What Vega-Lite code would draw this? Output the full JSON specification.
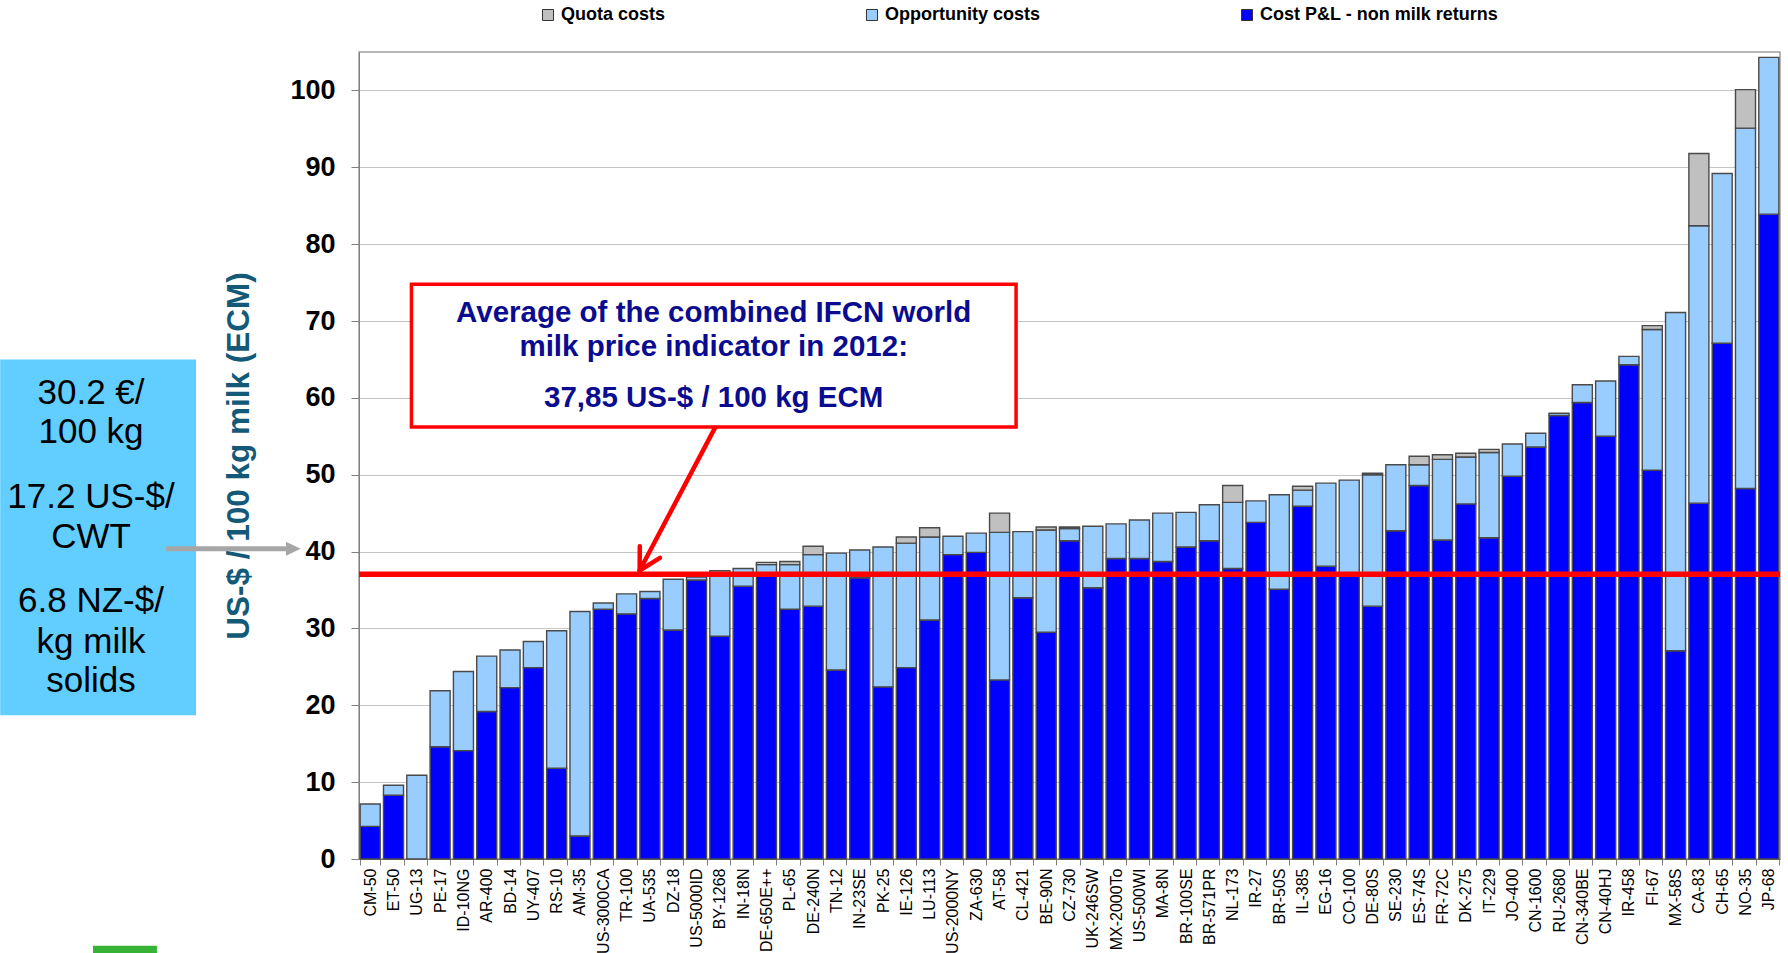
{
  "$schema": "https://vega.github.io/schema/vega-lite/v6.json",
  "width": 1421,
  "height": 807,
  "padding": {"left": 0, "top": 6, "right": 8, "bottom": 0},
  "background": "white",
  "config": {"font": "Liberation Sans", "view": {"stroke": "#a0a0a0", "strokeWidth": 1.5}},
  "resolve": {"scale": {"x": "independent"}},
  "layer": [
    {
      "data": {"values": [
        {"farm":"CM-50","component":"Cost P&L - non milk returns","value":4.25},{"farm":"CM-50","component":"Opportunity costs","value":2.9},
        {"farm":"ET-50","component":"Cost P&L - non milk returns","value":8.3},{"farm":"ET-50","component":"Opportunity costs","value":1.3},
        {"farm":"UG-13","component":"Opportunity costs","value":10.9},
        {"farm":"PE-17","component":"Cost P&L - non milk returns","value":14.6},{"farm":"PE-17","component":"Opportunity costs","value":7.3},
        {"farm":"ID-10NG","component":"Cost P&L - non milk returns","value":14.1},{"farm":"ID-10NG","component":"Opportunity costs","value":10.3},
        {"farm":"AR-400","component":"Cost P&L - non milk returns","value":19.2},{"farm":"AR-400","component":"Opportunity costs","value":7.2},
        {"farm":"BD-14","component":"Cost P&L - non milk returns","value":22.3},{"farm":"BD-14","component":"Opportunity costs","value":4.9},
        {"farm":"UY-407","component":"Cost P&L - non milk returns","value":24.9},{"farm":"UY-407","component":"Opportunity costs","value":3.4},
        {"farm":"RS-10","component":"Cost P&L - non milk returns","value":11.8},{"farm":"RS-10","component":"Opportunity costs","value":17.9},
        {"farm":"AM-35","component":"Cost P&L - non milk returns","value":3.0},{"farm":"AM-35","component":"Opportunity costs","value":29.2},
        {"farm":"US-3000CA","component":"Cost P&L - non milk returns","value":32.5},{"farm":"US-3000CA","component":"Opportunity costs","value":0.8},
        {"farm":"TR-100","component":"Cost P&L - non milk returns","value":31.9},{"farm":"TR-100","component":"Opportunity costs","value":2.6},
        {"farm":"UA-535","component":"Cost P&L - non milk returns","value":33.9},{"farm":"UA-535","component":"Opportunity costs","value":0.9},
        {"farm":"DZ-18","component":"Cost P&L - non milk returns","value":29.8},{"farm":"DZ-18","component":"Opportunity costs","value":6.6},
        {"farm":"US-5000ID","component":"Cost P&L - non milk returns","value":36.3},{"farm":"US-5000ID","component":"Opportunity costs","value":0.4},
        {"farm":"BY-1268","component":"Cost P&L - non milk returns","value":29.0},{"farm":"BY-1268","component":"Opportunity costs","value":8.5},
        {"farm":"IN-18N","component":"Cost P&L - non milk returns","value":35.5},{"farm":"IN-18N","component":"Opportunity costs","value":2.3},
        {"farm":"DE-650E++","component":"Cost P&L - non milk returns","value":37.2},{"farm":"DE-650E++","component":"Opportunity costs","value":1.1},{"farm":"DE-650E++","component":"Quota costs","value":0.3},
        {"farm":"PL-65","component":"Cost P&L - non milk returns","value":32.5},{"farm":"PL-65","component":"Opportunity costs","value":5.8},{"farm":"PL-65","component":"Quota costs","value":0.4},
        {"farm":"DE-240N","component":"Cost P&L - non milk returns","value":32.9},{"farm":"DE-240N","component":"Opportunity costs","value":6.7},{"farm":"DE-240N","component":"Quota costs","value":1.1},
        {"farm":"TN-12","component":"Cost P&L - non milk returns","value":24.6},{"farm":"TN-12","component":"Opportunity costs","value":15.2},
        {"farm":"IN-23SE","component":"Cost P&L - non milk returns","value":36.6},{"farm":"IN-23SE","component":"Opportunity costs","value":3.6},
        {"farm":"PK-25","component":"Cost P&L - non milk returns","value":22.4},{"farm":"PK-25","component":"Opportunity costs","value":18.2},
        {"farm":"IE-126","component":"Cost P&L - non milk returns","value":24.9},{"farm":"IE-126","component":"Opportunity costs","value":16.2},{"farm":"IE-126","component":"Quota costs","value":0.8},
        {"farm":"LU-113","component":"Cost P&L - non milk returns","value":31.1},{"farm":"LU-113","component":"Opportunity costs","value":10.8},{"farm":"LU-113","component":"Quota costs","value":1.2},
        {"farm":"US-2000NY","component":"Cost P&L - non milk returns","value":39.6},{"farm":"US-2000NY","component":"Opportunity costs","value":2.4},
        {"farm":"ZA-630","component":"Cost P&L - non milk returns","value":39.9},{"farm":"ZA-630","component":"Opportunity costs","value":2.5},
        {"farm":"AT-58","component":"Cost P&L - non milk returns","value":23.3},{"farm":"AT-58","component":"Opportunity costs","value":19.2},{"farm":"AT-58","component":"Quota costs","value":2.5},
        {"farm":"CL-421","component":"Cost P&L - non milk returns","value":34.0},{"farm":"CL-421","component":"Opportunity costs","value":8.6},
        {"farm":"BE-90N","component":"Cost P&L - non milk returns","value":29.5},{"farm":"BE-90N","component":"Opportunity costs","value":13.3},{"farm":"BE-90N","component":"Quota costs","value":0.4},
        {"farm":"CZ-730","component":"Cost P&L - non milk returns","value":41.4},{"farm":"CZ-730","component":"Opportunity costs","value":1.6},{"farm":"CZ-730","component":"Quota costs","value":0.2},
        {"farm":"UK-246SW","component":"Cost P&L - non milk returns","value":35.3},{"farm":"UK-246SW","component":"Opportunity costs","value":8.0},
        {"farm":"MX-2000To","component":"Cost P&L - non milk returns","value":39.1},{"farm":"MX-2000To","component":"Opportunity costs","value":4.5},
        {"farm":"US-500WI","component":"Cost P&L - non milk returns","value":39.1},{"farm":"US-500WI","component":"Opportunity costs","value":5.0},
        {"farm":"MA-8N","component":"Cost P&L - non milk returns","value":38.7},{"farm":"MA-8N","component":"Opportunity costs","value":6.3},
        {"farm":"BR-100SE","component":"Cost P&L - non milk returns","value":40.6},{"farm":"BR-100SE","component":"Opportunity costs","value":4.5},
        {"farm":"BR-571PR","component":"Cost P&L - non milk returns","value":41.4},{"farm":"BR-571PR","component":"Opportunity costs","value":4.7},
        {"farm":"NL-173","component":"Cost P&L - non milk returns","value":37.8},{"farm":"NL-173","component":"Opportunity costs","value":8.6},{"farm":"NL-173","component":"Quota costs","value":2.2},
        {"farm":"IR-27","component":"Cost P&L - non milk returns","value":43.8},{"farm":"IR-27","component":"Opportunity costs","value":2.8},
        {"farm":"BR-50S","component":"Cost P&L - non milk returns","value":35.1},{"farm":"BR-50S","component":"Opportunity costs","value":12.3},
        {"farm":"IL-385","component":"Cost P&L - non milk returns","value":45.9},{"farm":"IL-385","component":"Opportunity costs","value":2.1},{"farm":"IL-385","component":"Quota costs","value":0.5},
        {"farm":"EG-16","component":"Cost P&L - non milk returns","value":38.1},{"farm":"EG-16","component":"Opportunity costs","value":10.8},
        {"farm":"CO-100","component":"Cost P&L - non milk returns","value":37.0},{"farm":"CO-100","component":"Opportunity costs","value":12.3},
        {"farm":"DE-80S","component":"Cost P&L - non milk returns","value":32.9},{"farm":"DE-80S","component":"Opportunity costs","value":17.1},{"farm":"DE-80S","component":"Quota costs","value":0.2},
        {"farm":"SE-230","component":"Cost P&L - non milk returns","value":42.7},{"farm":"SE-230","component":"Opportunity costs","value":8.6},
        {"farm":"ES-74S","component":"Cost P&L - non milk returns","value":48.6},{"farm":"ES-74S","component":"Opportunity costs","value":2.7},{"farm":"ES-74S","component":"Quota costs","value":1.1},
        {"farm":"FR-72C","component":"Cost P&L - non milk returns","value":41.5},{"farm":"FR-72C","component":"Opportunity costs","value":10.5},{"farm":"FR-72C","component":"Quota costs","value":0.6},
        {"farm":"DK-275","component":"Cost P&L - non milk returns","value":46.2},{"farm":"DK-275","component":"Opportunity costs","value":6.1},{"farm":"DK-275","component":"Quota costs","value":0.5},
        {"farm":"IT-229","component":"Cost P&L - non milk returns","value":41.8},{"farm":"IT-229","component":"Opportunity costs","value":11.1},{"farm":"IT-229","component":"Quota costs","value":0.4},
        {"farm":"JO-400","component":"Cost P&L - non milk returns","value":49.8},{"farm":"JO-400","component":"Opportunity costs","value":4.2},
        {"farm":"CN-1600","component":"Cost P&L - non milk returns","value":53.6},{"farm":"CN-1600","component":"Opportunity costs","value":1.8},
        {"farm":"RU-2680","component":"Cost P&L - non milk returns","value":57.7},{"farm":"RU-2680","component":"Opportunity costs","value":0.3},
        {"farm":"CN-340BE","component":"Cost P&L - non milk returns","value":59.4},{"farm":"CN-340BE","component":"Opportunity costs","value":2.3},
        {"farm":"CN-40HJ","component":"Cost P&L - non milk returns","value":55.0},{"farm":"CN-40HJ","component":"Opportunity costs","value":7.2},
        {"farm":"IR-458","component":"Cost P&L - non milk returns","value":64.3},{"farm":"IR-458","component":"Opportunity costs","value":1.1},
        {"farm":"FI-67","component":"Cost P&L - non milk returns","value":50.6},{"farm":"FI-67","component":"Opportunity costs","value":18.3},{"farm":"FI-67","component":"Quota costs","value":0.5},
        {"farm":"MX-58S","component":"Cost P&L - non milk returns","value":27.1},{"farm":"MX-58S","component":"Opportunity costs","value":44.0},
        {"farm":"CA-83","component":"Cost P&L - non milk returns","value":46.3},{"farm":"CA-83","component":"Opportunity costs","value":36.1},{"farm":"CA-83","component":"Quota costs","value":9.4},
        {"farm":"CH-65","component":"Cost P&L - non milk returns","value":67.1},{"farm":"CH-65","component":"Opportunity costs","value":22.1},
        {"farm":"NO-35","component":"Cost P&L - non milk returns","value":48.2},{"farm":"NO-35","component":"Opportunity costs","value":46.9},{"farm":"NO-35","component":"Quota costs","value":5.0},
        {"farm":"JP-68","component":"Cost P&L - non milk returns","value":83.9},{"farm":"JP-68","component":"Opportunity costs","value":20.4}
      ]},
      "mark": {"type": "bar", "stroke": "#4a4a4a", "strokeWidth": 1.4},
      "encoding": {
        "x": {"field": "farm", "type": "nominal", "sort": null,
          "scale": {"paddingInner": 0.14, "paddingOuter": 0.05},
          "axis": {"title": null, "labelAngle": -90, "labelFontSize": 16, "labelColor": "black", "labelPadding": 3, "tickSize": 6, "tickBand": "extent", "tickColor": "#808080", "domainColor": "#808080", "grid": false}},
        "y": {"field": "value", "type": "quantitative", "stack": "zero",
          "scale": {"domain": [0, 105], "nice": false},
          "axis": {"title": "US-$ / 100 kg milk (ECM)", "titleFontSize": 31.5, "titleFontWeight": "bold", "titleColor": "#145a78", "titlePadding": 34,
            "values": [0,10,20,30,40,50,60,70,80,90,100], "labelFontSize": 27, "labelFontWeight": "bold", "labelColor": "black", "labelPadding": 16,
            "tickSize": 8, "tickColor": "#808080", "domainColor": "#808080", "grid": true, "gridColor": "#c4c4c4", "gridWidth": 1}},
        "color": {"field": "component", "type": "nominal",
          "scale": {"domain": ["Quota costs", "Opportunity costs", "Cost P&L - non milk returns"], "range": ["#c0c0c0", "#99ccff", "#0000ff"]},
          "legend": {"orient": "none", "legendX": 180, "legendY": -46, "direction": "horizontal", "title": null, "symbolType": "square", "symbolSize": 121,
            "symbolStrokeColor": "#333333", "symbolStrokeWidth": 1, "labelFontSize": 18, "labelFontWeight": "bold", "labelColor": "black", "labelOffset": 4, "labelLimit": 500, "columnPadding": 197, "padding": 0}},
        "order": {"field": "component", "sort": "ascending"}
      }
    },
    {
      "data": {"values": [{}]},
      "layer": [
        {"mark": {"type": "rule", "color": "#ff0000", "strokeWidth": 5.5},
         "encoding": {"y": {"datum": 37.06, "type": "quantitative", "scale": {"domain": [0, 105], "nice": false}}}},
        {"mark": {"type": "rect", "fill": "#61ceff"},
         "encoding": {"x": {"datum": -0.2525, "type": "quantitative", "scale": {"domain": [0, 1], "nice": false, "zero": false}, "axis": null}, "x2": {"datum": -0.1147}, "y": {"datum": 65.0, "type": "quantitative"}, "y2": {"datum": 18.7}}},
        {"mark": {"type": "rect", "fill": "#36b336"},
         "encoding": {"x": {"datum": -0.1872, "type": "quantitative", "axis": null}, "x2": {"datum": -0.1422}, "y": {"datum": -11.3, "type": "quantitative"}, "y2": {"datum": -12.4}}},
        {"mark": {"type": "rule", "color": "#a6a6a6", "strokeWidth": 5},
         "encoding": {"x": {"datum": -0.1358, "type": "quantitative", "axis": null}, "x2": {"datum": -0.0514}, "y": {"datum": 40.36, "type": "quantitative"}}},
        {"mark": {"type": "point", "shape": "M0,-1L2.1,0L0,1Z", "filled": true, "color": "#a6a6a6", "opacity": 1, "size": 196},
         "encoding": {"x": {"datum": -0.0514, "type": "quantitative", "axis": null}, "y": {"datum": 40.36, "type": "quantitative"}}},
        {"mark": {"type": "text", "fontSize": 35, "color": "black", "align": "center", "baseline": "middle"},
         "encoding": {"x": {"datum": -0.1886, "type": "quantitative", "axis": null}, "y": {"datum": 60.67, "type": "quantitative"}, "text": {"value": "30.2 €/"}}},
        {"mark": {"type": "text", "fontSize": 35, "color": "black", "align": "center", "baseline": "middle"},
         "encoding": {"x": {"datum": -0.1886, "type": "quantitative", "axis": null}, "y": {"datum": 55.57, "type": "quantitative"}, "text": {"value": "100 kg"}}},
        {"mark": {"type": "text", "fontSize": 35, "color": "black", "align": "center", "baseline": "middle"},
         "encoding": {"x": {"datum": -0.1886, "type": "quantitative", "axis": null}, "y": {"datum": 47.11, "type": "quantitative"}, "text": {"value": "17.2 US-$/"}}},
        {"mark": {"type": "text", "fontSize": 35, "color": "black", "align": "center", "baseline": "middle"},
         "encoding": {"x": {"datum": -0.1886, "type": "quantitative", "axis": null}, "y": {"datum": 41.9, "type": "quantitative"}, "text": {"value": "CWT"}}},
        {"mark": {"type": "text", "fontSize": 35, "color": "black", "align": "center", "baseline": "middle"},
         "encoding": {"x": {"datum": -0.1886, "type": "quantitative", "axis": null}, "y": {"datum": 33.54, "type": "quantitative"}, "text": {"value": "6.8 NZ-$/"}}},
        {"mark": {"type": "text", "fontSize": 35, "color": "black", "align": "center", "baseline": "middle"},
         "encoding": {"x": {"datum": -0.1886, "type": "quantitative", "axis": null}, "y": {"datum": 28.25, "type": "quantitative"}, "text": {"value": "kg milk"}}},
        {"mark": {"type": "text", "fontSize": 35, "color": "black", "align": "center", "baseline": "middle"},
         "encoding": {"x": {"datum": -0.1886, "type": "quantitative", "axis": null}, "y": {"datum": 23.13, "type": "quantitative"}, "text": {"value": "solids"}}},
        {"mark": {"type": "rect", "fill": "white", "stroke": "#ff0000", "strokeWidth": 3.5},
         "encoding": {"x": {"datum": 0.0369, "type": "quantitative", "axis": null}, "x2": {"datum": 0.4624}, "y": {"datum": 74.78, "type": "quantitative"}, "y2": {"datum": 56.21}}},
        {"mark": {"type": "text", "fontSize": 29.5, "fontWeight": "bold", "color": "#0b0b8f", "align": "center", "baseline": "middle"},
         "encoding": {"x": {"datum": 0.2496, "type": "quantitative", "axis": null}, "y": {"datum": 71.1, "type": "quantitative"}, "text": {"value": "Average of the combined IFCN world"}}},
        {"mark": {"type": "text", "fontSize": 29.5, "fontWeight": "bold", "color": "#0b0b8f", "align": "center", "baseline": "middle"},
         "encoding": {"x": {"datum": 0.2496, "type": "quantitative", "axis": null}, "y": {"datum": 66.6, "type": "quantitative"}, "text": {"value": "milk price indicator in 2012:"}}},
        {"mark": {"type": "text", "fontSize": 29.5, "fontWeight": "bold", "color": "#0b0b8f", "align": "center", "baseline": "middle"},
         "encoding": {"x": {"datum": 0.2496, "type": "quantitative", "axis": null}, "y": {"datum": 60.0, "type": "quantitative"}, "text": {"value": "37,85 US-$ / 100 kg ECM"}}},
        {"mark": {"type": "rule", "color": "#ff0000", "strokeWidth": 4.5, "strokeCap": "round"},
         "encoding": {"x": {"datum": 0.2505, "type": "quantitative", "axis": null}, "x2": {"datum": 0.1975}, "y": {"datum": 56.09, "type": "quantitative"}, "y2": {"datum": 37.54}}},
        {"mark": {"type": "rule", "color": "#ff0000", "strokeWidth": 4.5, "strokeCap": "round"},
         "encoding": {"x": {"datum": 0.1976, "type": "quantitative", "axis": null}, "x2": {"datum": 0.1975}, "y": {"datum": 40.7, "type": "quantitative"}, "y2": {"datum": 37.54}}},
        {"mark": {"type": "rule", "color": "#ff0000", "strokeWidth": 4.5, "strokeCap": "round"},
         "encoding": {"x": {"datum": 0.2118, "type": "quantitative", "axis": null}, "x2": {"datum": 0.1975}, "y": {"datum": 39.19, "type": "quantitative"}, "y2": {"datum": 37.54}}}
      ]
    }
  ]
}
